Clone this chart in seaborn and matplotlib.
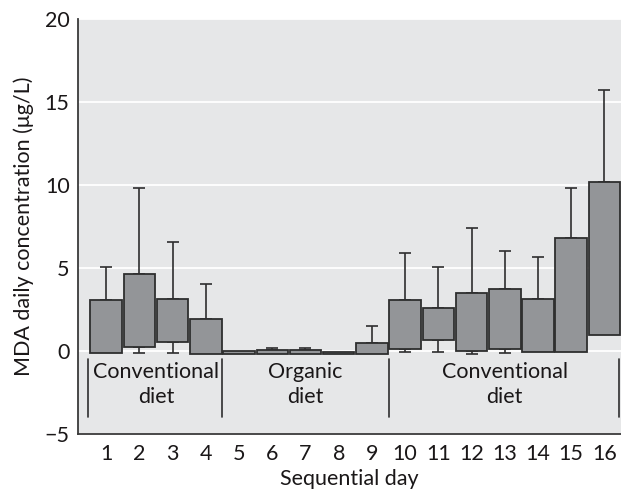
import numpy as np
import pandas as pd
import matplotlib
matplotlib.use("Agg")
import matplotlib.pyplot as plt
import seaborn as sns

days = list(range(1, 17))
box_low = [-0.12, 0.24, 0.56, -0.16, -0.16, -0.16, -0.16, -0.16, -0.16, 0.10, 0.64, 0.02, 0.14, -0.08, -0.08, 0.96]
box_high = [3.08, 4.63, 3.16, 1.92, -0.02, 0.08, 0.08, -0.04, 0.50, 3.10, 2.57, 3.51, 3.71, 3.14, 6.83, 10.18]
whisk_up = [5.09, 9.82, 6.55, 4.05, -0.02, 0.20, 0.20, -0.04, 1.50, 5.89, 5.09, 7.41, 6.03, 5.67, 9.82, 15.71]
whisk_lo = [-0.12, -0.12, -0.12, -0.16, -0.16, -0.16, -0.16, -0.16, -0.16, -0.06, -0.06, -0.16, -0.10, -0.08, -0.08, 0.96]

group_labels = ["Conventional\ndiet", "Organic\ndiet", "Conventional\ndiet"]
group_centers = [2.5, 7.0, 13.0]
group_bounds = [0.45, 4.48, 9.52, 16.45]

sns.set_theme(style="darkgrid", rc={
    "axes.facecolor": "#e6e7e8",
    "grid.color": "white",
    "grid.linewidth": 1.3,
    "axes.edgecolor": "#3a3a3a",
    "axes.linewidth": 1.3,
})
plt.rcParams["font.family"] = ["Lato", "DejaVu Sans"]

FS = 15.5
TXT = "#1a1718"

df = pd.DataFrame({"day": days, "low": box_low, "high": box_high,
                   "up": whisk_up, "lo": whisk_lo})
df["height"] = df["high"] - df["low"]

fig = plt.figure(figsize=(6.21, 4.95), dpi=100)
ax = fig.add_axes([0.1256, 0.1232, 0.8744, 0.8384])

sns.barplot(data=df, x="day", y="height", native_scale=True, width=0.95,
            color="#939598", edgecolor="#2e2e2e", linewidth=1.3,
            saturation=1, errorbar=None, ax=ax, zorder=3)
for patch, low in zip(ax.patches, df["low"]):
    patch.set_y(low)

up = df[df["up"] > df["high"] + 1e-9]
ax.errorbar(up["day"], up["high"], yerr=[np.zeros(len(up)), up["up"] - up["high"]],
            fmt="none", ecolor="#2e2e2e", elinewidth=1.2, capsize=4.3, capthick=1.2, zorder=2)
lo = df[df["lo"] < df["low"] - 1e-9]
ax.errorbar(lo["day"], lo["low"], yerr=[lo["low"] - lo["lo"], np.zeros(len(lo))],
            fmt="none", ecolor="#2e2e2e", elinewidth=1.2, capsize=4.3, capthick=1.2, zorder=2)

for xb in group_bounds:
    ax.plot([xb, xb], [-0.5, -3.95], color="#2e2e2e", lw=1.2, zorder=4)
for xc, lab in zip(group_centers, group_labels):
    ax.text(xc, -0.65, lab, ha="center", va="top", fontsize=FS, color=TXT,
            linespacing=1.3, zorder=4)

ax.set_xlim(0.15, 16.5)
ax.set_ylim(-5, 20)
ax.set_yticks([-5, 0, 5, 10, 15, 20])
ax.set_yticklabels(["\u22125", "0", "5", "10", "15", "20"])
ax.set_xticks(days)
ax.set_xticklabels([str(d) for d in days])
ax.grid(axis="x", visible=False)
ax.tick_params(axis="both", length=0, labelsize=FS, colors=TXT, pad=6)
ax.tick_params(axis="x", pad=7)
for s in ["top", "right"]:
    ax.spines[s].set_visible(False)
ax.spines["left"].set_visible(True)
ax.spines["bottom"].set_visible(True)
ax.set_xlabel("Sequential day", fontsize=FS, color=TXT, labelpad=4)
ax.set_ylabel("MDA daily concentration (\u03bcg/L)", fontsize=FS, color=TXT, labelpad=8)

fig.savefig("out.png", dpi=100)
